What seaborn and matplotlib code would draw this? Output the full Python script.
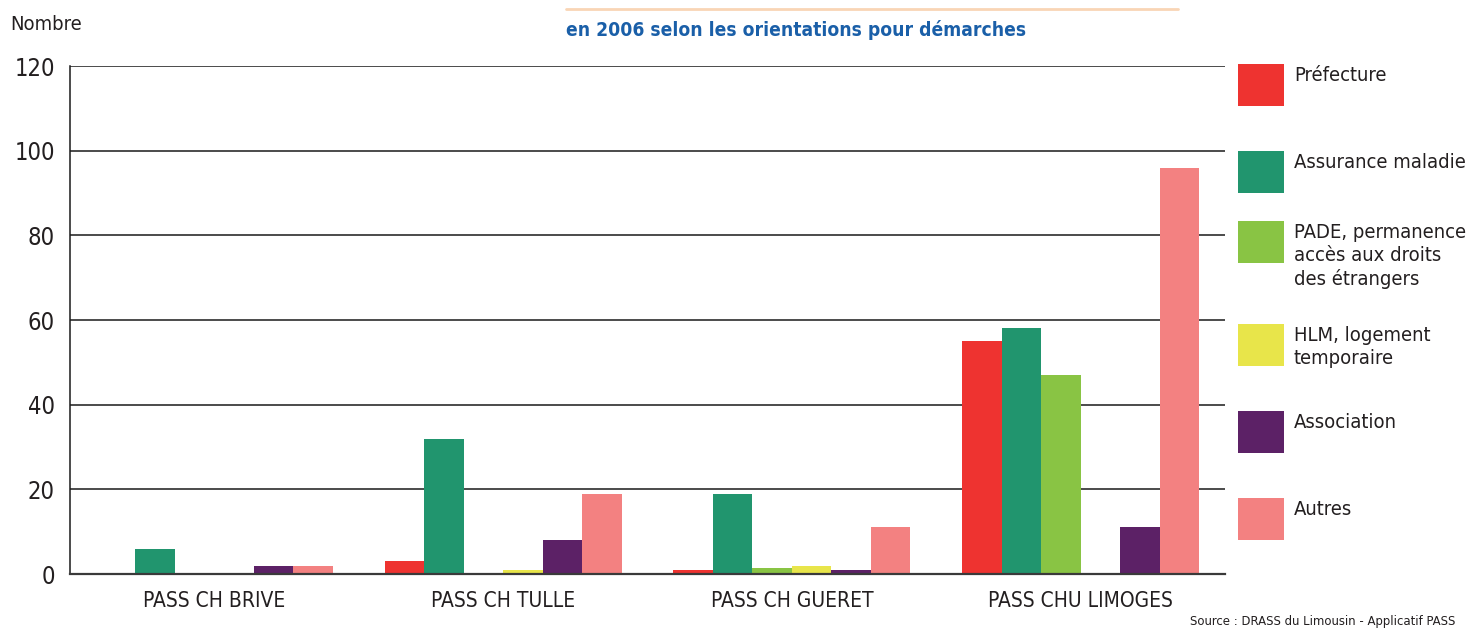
import matplotlib
matplotlib.use("Agg")
import matplotlib.pyplot as plt
from matplotlib import font_manager
from matplotlib.patches import Rectangle
from matplotlib.lines import Line2D
from matplotlib.ticker import FixedLocator, NullFormatter
import seaborn as sns
import pandas as pd

# ---- data ----
categories = ["PASS CH BRIVE", "PASS CH TULLE", "PASS CH GUERET", "PASS CHU LIMOGES"]
series = ["Préfecture", "Assurance maladie",
          "PADE, permanence\naccès aux droits\ndes étrangers",
          "HLM, logement\ntemporaire", "Association", "Autres"]
prefecture = [0, 3, 1, 55]
assurance = [6, 32, 19, 58]
pade = [0, 0, 1.5, 47]
hlm = [0, 1, 2, 0]
association = [2, 8, 1, 11]
autres = [2, 19, 11, 96]
colors = ["#EE3330", "#21956E", "#89C444", "#E8E54A", "#5C2166", "#F38181"]
yticks = [0, 20, 40, 60, 80, 100, 120]
title = "en 2006 selon les orientations pour démarches"
ylabel = "Nombre"
source = "Source : DRASS du Limousin - Applicatif PASS"

values = [prefecture, assurance, pade, hlm, association, autres]
rows = []
for s, vals in zip(series, values):
    for c, v in zip(categories, vals):
        rows.append({"cat": c, "serie": s, "val": v})
df = pd.DataFrame(rows)

# ---- fonts ----
sns.set_style("white")
names = {f.name for f in font_manager.fontManager.ttflist}
if "Liberation Sans Narrow" in names:
    fam = ["Liberation Sans Narrow", "DejaVu Sans"]
    stretch = "normal"
else:
    fam = ["DejaVu Sans"]
    stretch = "condensed"
plt.rcParams["font.family"] = fam
plt.rcParams["font.stretch"] = stretch
txtc = "#231F20"

W, H = 1469, 631
fig = plt.figure(figsize=(W / 100, H / 100), dpi=100)
ax = fig.add_axes([70 / W, 1 - 574 / H, (1225 - 70) / W, (574 - 66) / H])

sns.barplot(data=df, x="cat", y="val", hue="serie", order=categories,
            hue_order=series, palette=colors, width=0.82, saturation=1,
            ax=ax, legend=False, linewidth=0)

ax.set_xlim(-0.5, len(categories) - 0.5)
ax.set_ylim(0, 120)
ax.set_yticks(yticks)
ax.set_yticklabels([str(t) for t in yticks], fontsize=17, color=txtc)
ax.tick_params(axis="y", length=0, pad=11)
for t in yticks[1:]:
    ax.axhline(t, color="#1a1a1a", lw=1.1, zorder=0)

ax.set_xticks(range(len(categories)))
ax.set_xticklabels(categories, fontsize=15, color=txtc)
ax.tick_params(axis="x", which="major", length=0, pad=12)
ax.xaxis.set_minor_locator(FixedLocator([i - 0.5 for i in range(len(categories) + 1)]))
ax.xaxis.set_minor_formatter(NullFormatter())
ax.tick_params(axis="x", which="minor", length=8, width=1.3, color="#333333", direction="out")
ax.set_xlabel("")
ax.set_ylabel("")

for side in ["top", "right"]:
    ax.spines[side].set_visible(False)
ax.spines["left"].set_color("#1a1a1a")
ax.spines["left"].set_linewidth(1.1)
ax.spines["bottom"].set_color("#3a3a3a")
ax.spines["bottom"].set_linewidth(1.6)

# y label "Nombre"
fig.text(10 / W, 1 - 24 / H, ylabel, fontsize=14.5, color=txtc, ha="left", va="center")

# title and rule
fig.add_artist(Line2D([566 / W, 1178 / W], [1 - 9 / H, 1 - 9 / H], color="#F9D5B5", lw=2))
fig.text(566 / W, 1 - 30 / H, title, fontsize=13.8, fontweight="bold", color="#1A5FA8",
         ha="left", va="center")

# legend
tops = [64, 151, 221, 324, 411, 498]
for lab, col, top in zip(series, colors, tops):
    fig.add_artist(Rectangle((1238 / W, 1 - (top + 42) / H), 46 / W, 42 / H,
                             facecolor=col, edgecolor="none"))
    fig.text(1294 / W, 1 - (top + 2) / H, lab, fontsize=14.5, color=txtc,
             ha="left", va="top", linespacing=1.25)

fig.text(1455 / W, 1 - 621 / H, source, fontsize=9.4, color=txtc, ha="right", va="center")

fig.savefig("out.png", dpi=100)
